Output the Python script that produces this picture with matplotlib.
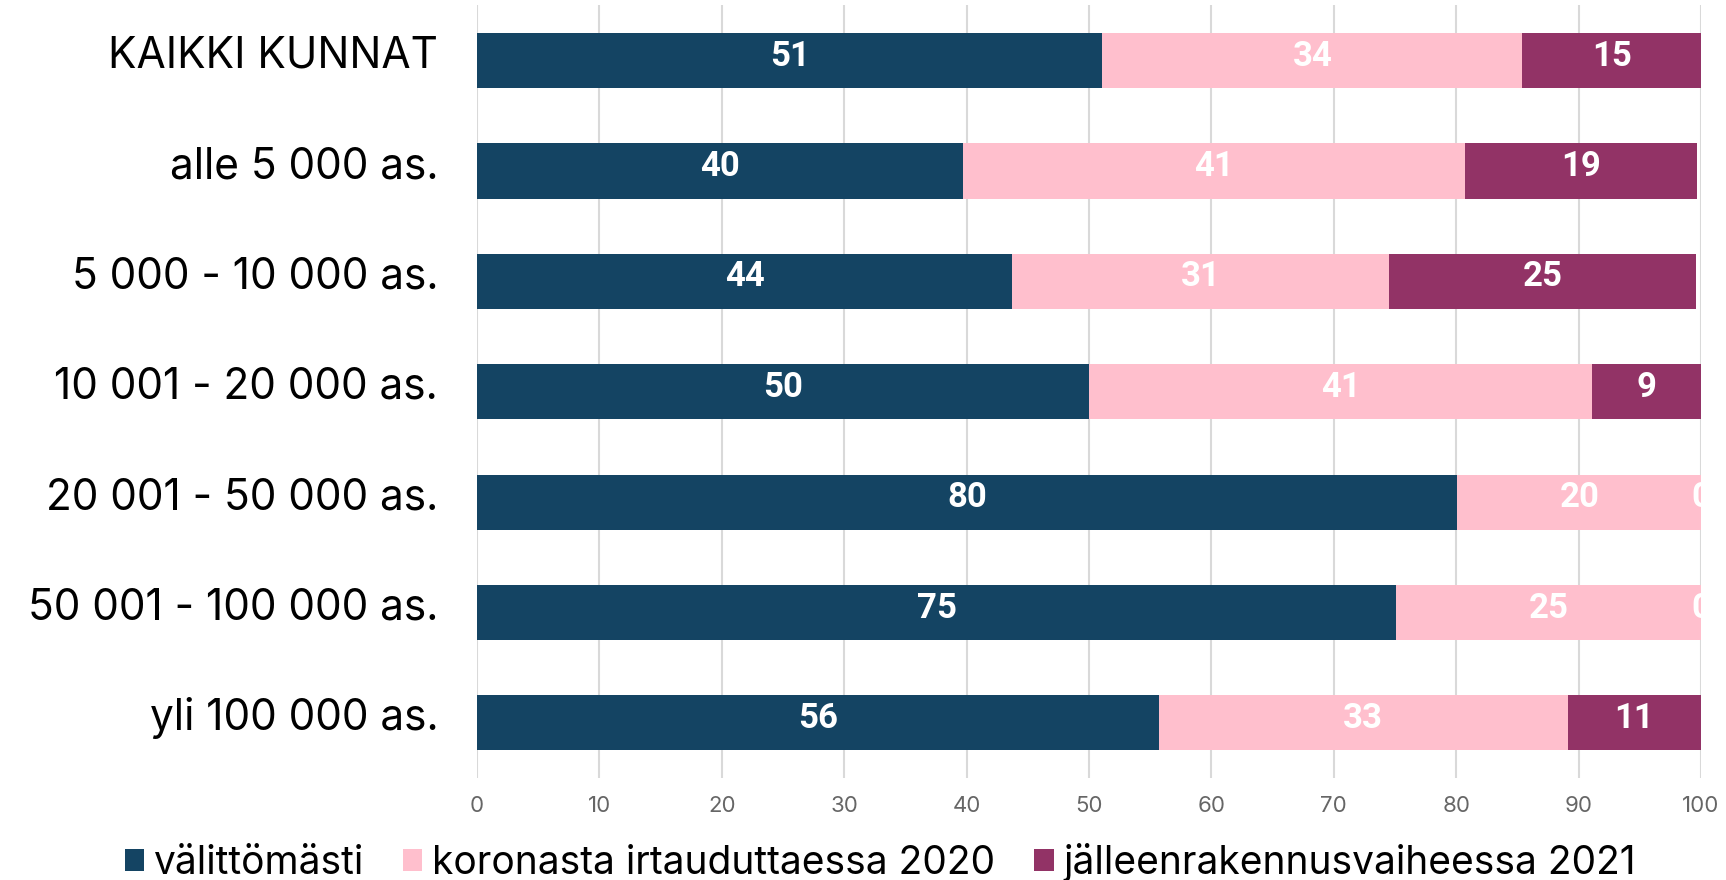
import matplotlib
matplotlib.use("Agg")
import matplotlib.pyplot as plt
import matplotlib.transforms as mtransforms
import numpy as np

categories = ["KAIKKI KUNNAT", "alle 5 000 as.", "5 000 - 10 000 as.",
              "10 001 - 20 000 as.", "20 001 - 50 000 as.",
              "50 001 - 100 000 as.", "yli 100 000 as."]
series_names = ["välittömästi", "koronasta irtauduttaessa 2020", "jälleenrakennusvaiheessa 2021"]
valittomasti = [51.1, 39.7, 43.7, 50.0, 80.1, 75.1, 55.7]
koronasta = [34.3, 41.0, 30.8, 41.1, 19.9, 24.9, 33.4]
jalleenrakennus = [14.6, 19.0, 25.1, 8.9, 0.0, 0.0, 10.9]
xticks = [0, 10, 20, 30, 40, 50, 60, 70, 80, 90, 100]

colors = ["#144463", "#FFBFCD", "#923366"]
FONT = "Inter"

fig = plt.figure(figsize=(17.26, 8.8), dpi=100)
ax = fig.add_axes([0.2764, 0.1159, 0.7091, 0.8779])

series = [valittomasti, koronasta, jalleenrakennus]
y = np.arange(len(categories))
left = np.zeros(len(categories))
for name, vals, col in zip(series_names, series, colors):
    vals = np.array(vals)
    ax.barh(y, vals, left=left, height=0.5, color=col, label=name, zorder=2)
    for yi, l, v in zip(y, left, vals):
        ax.text(l + v / 2, yi - 0.04, f"{round(v):d}", ha="center", va="center",
                color="white", fontsize=25, fontweight="bold", family="Roboto",
                zorder=3, clip_on=True)
    left = left + vals

ax.set_xlim(0, 100)
ax.set_ylim(len(categories) - 0.5, -0.5)
ax.set_xticks(xticks)
ax.set_yticks(y)
ax.set_yticklabels(categories, fontsize=30.5, family=FONT, color="black")
ax.tick_params(axis="y", length=0, pad=28)
ax.tick_params(axis="x", length=0, pad=13, labelsize=16, labelcolor="#666666")
offset = mtransforms.ScaledTranslation(0, 0.09, fig.dpi_scale_trans)
for lab in ax.get_yticklabels():
    lab.set_transform(lab.get_transform() + offset)
for lab in ax.get_xticklabels():
    lab.set_family(FONT)
ax.grid(axis="x", color="#d9d9d9", linewidth=1.5, zorder=0)
ax.set_axisbelow(True)
for s in ax.spines.values():
    s.set_visible(False)

leg = fig.legend(loc="lower center", bbox_to_anchor=(0.51, -0.042), ncol=3,
                 frameon=False, prop={"family": FONT, "size": 28},
                 handlelength=0.5, handleheight=0.5, handletextpad=0.25,
                 columnspacing=1.0)

fig.savefig("out.png", dpi=100)
